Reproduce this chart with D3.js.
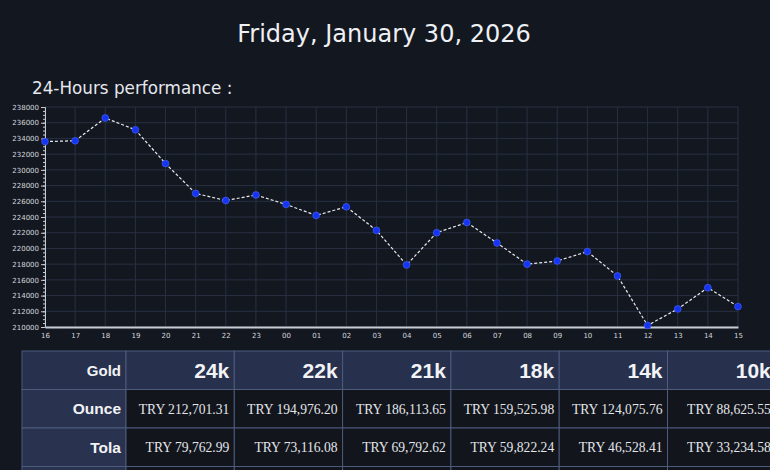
<!DOCTYPE html>
<html>
<head>
<meta charset="utf-8">
<script src="https://cdn.jsdelivr.net/npm/d3@7"></script>
<style>
  body { margin: 0; background: #131720; overflow: hidden; }
  svg { display: block; font-family: "DejaVu Sans", sans-serif; }
</style>
</head>
<body>
<div id="chart"></div>
<script>
// hourly price, last 24 hours
const hours = ["16","17","18","19","20","21","22","23","00","01","02","03","04","05","06","07","08","09","10","11","12","13","14","15"]
const prices = [233600, 233700, 236600, 235100, 230800, 227000, 226100, 226800, 225600, 224200, 225300, 222300,
  217900, 222000, 223300, 220700, 218000, 218400, 219600, 216500, 210200, 212300, 215000, 212600]

// price table (the row below Tola is cut off by the frame)
const karats = ["24k", "22k", "21k", "18k", "14k", "10k"]
const units = ["Ounce", "Tola"]
const ounceRow = ["TRY 212,701.31", "TRY 194,976.20", "TRY 186,113.65", "TRY 159,525.98", "TRY 124,075.76", "TRY 88,625.55"]
const tolaRow = ["TRY 79,762.99", "TRY 73,116.08", "TRY 69,792.62", "TRY 59,822.24", "TRY 46,528.41", "TRY 33,234.58"]

const W = 770, H = 470
const svg = d3.select("#chart").append("svg")
  .attr("width", W)
  .attr("height", H)

svg.append("text")
  .attr("x", 384)
  .attr("y", 42)
  .attr("text-anchor", "middle")
  .attr("font-size", 24)
  .attr("fill", "#eef0f4")
  .text("Friday, January 30, 2026")

svg.append("text")
  .attr("x", 32)
  .attr("y", 94)
  .attr("font-size", 16.8)
  .attr("fill", "#e6e8ee")
  .text("24-Hours performance :")

// --- line chart
const plot = {left: 45, right: 738, top: 107, bottom: 327}

const x = d3.scalePoint()
  .domain(hours)
  .range([plot.left, plot.right])

const y = d3.scaleLinear()
  .domain([210000, 238000])
  .range([plot.bottom, plot.top])

const yTicks = d3.range(210000, 238001, 2000)

const grid = svg.append("g")
grid.selectAll("line.h")
  .data(yTicks)
  .join("line")
    .attr("class", "h")
    .attr("x1", plot.left)
    .attr("x2", plot.right)
    .attr("y1", d => y(d))
    .attr("y2", d => y(d))
    .attr("stroke", "#283040")
    .attr("stroke-width", 1)
grid.selectAll("line.v")
  .data(hours)
  .join("line")
    .attr("class", "v")
    .attr("x1", d => x(d))
    .attr("x2", d => x(d))
    .attr("y1", plot.top)
    .attr("y2", plot.bottom)
    .attr("stroke", "#283040")
    .attr("stroke-width", 1)

// minor ticks on y axis
svg.append("g")
  .attr("transform", `translate(${plot.left},0)`)
  .call(d3.axisLeft(y).tickValues(d3.range(210000, 238001, 500)).tickSize(2).tickFormat(""))
  .call(g => g.select(".domain").remove())
  .call(g => g.selectAll("line").attr("stroke", "#c8ccd4"))

const yAxis = svg.append("g")
  .attr("transform", `translate(${plot.left},0)`)
  .call(d3.axisLeft(y).tickValues(yTicks).tickSize(4).tickPadding(2).tickFormat(d3.format("d")))
yAxis.select(".domain").attr("stroke", "#c8ccd4")
yAxis.selectAll("line").attr("stroke", "#c8ccd4")
yAxis.selectAll("text")
  .attr("fill", "#d4d7de")
  .attr("font-size", 7)
  .attr("font-family", "DejaVu Sans")

const xAxis = svg.append("g")
  .attr("transform", `translate(0,${plot.bottom})`)
  .call(d3.axisBottom(x).tickSize(0).tickPadding(6))
xAxis.select(".domain")
  .attr("stroke", "#c8ccd4")
  .attr("stroke-width", 2)
xAxis.selectAll("text")
  .attr("fill", "#d4d7de")
  .attr("font-size", 7)
  .attr("font-family", "DejaVu Sans")

const line = d3.line()
  .x((d, i) => x(hours[i]))
  .y(d => y(d))

svg.append("path")
  .datum(prices)
  .attr("d", line)
  .attr("fill", "none")
  .attr("stroke", "#e8eaf0")
  .attr("stroke-width", 1.2)
  .attr("stroke-dasharray", "3,2")

svg.append("g")
  .selectAll("circle")
  .data(prices)
  .join("circle")
    .attr("cx", (d, i) => x(hours[i]))
    .attr("cy", d => y(d))
    .attr("r", 3.4)
    .attr("fill", "#1535f2")
    .attr("stroke", "#4a64ff")
    .attr("stroke-width", 0.6)

// --- price table
const colEdges = [22, 126]
karats.forEach((k, i) => colEdges.push(126 + (i + 1) * 108.3))
const rowH = 38.5
const tableTop = 351
const rows = [ounceRow, tolaRow]

const table = svg.append("g")

const headerCells = [{text: "Gold", big: false}].concat(karats.map(k => ({text: k, big: true})))
table.selectAll("g.head")
  .data(headerCells)
  .join("g")
    .attr("class", "head")
    .each(function(d, i) {
      const g = d3.select(this)
      g.append("rect")
        .attr("x", colEdges[i])
        .attr("y", tableTop)
        .attr("width", colEdges[i + 1] - colEdges[i])
        .attr("height", rowH)
        .attr("fill", "#27314d")
        .attr("stroke", "#4d5b7c")
      g.append("text")
        .attr("x", colEdges[i + 1] - 5)
        .attr("y", tableTop + rowH / 2)
        .attr("dy", "0.36em")
        .attr("text-anchor", "end")
        .attr("font-family", "Liberation Sans, Arial, sans-serif")
        .attr("font-weight", "bold")
        .attr("font-size", d.big ? 21 : 15)
        .attr("fill", "#f2f3f6")
        .text(d.text)
    })

rows.forEach((row, r) => {
  const top = tableTop + rowH * (r + 1)
  const cells = [units[r]].concat(row)
  table.append("g")
    .selectAll("g")
    .data(cells)
    .join("g")
      .each(function(d, i) {
        const g = d3.select(this)
        g.append("rect")
          .attr("x", colEdges[i])
          .attr("y", top)
          .attr("width", colEdges[i + 1] - colEdges[i])
          .attr("height", rowH)
          .attr("fill", i == 0 ? "#29334f" : "#12151c")
          .attr("stroke", "#4d5b7c")
        g.append("text")
          .attr("x", colEdges[i + 1] - 5)
          .attr("y", top + rowH / 2)
          .attr("dy", "0.36em")
          .attr("text-anchor", "end")
          .attr("font-family", i == 0 ? "Liberation Sans, Arial, sans-serif" : "Liberation Serif, Times New Roman, serif")
          .attr("font-weight", i == 0 ? "bold" : "normal")
          .attr("font-size", i == 0 ? 15.5 : 13.6)
          .attr("fill", i == 0 ? "#f2f3f6" : "#e4e6ea")
          .text(d)
      })
})

// top edge of the next row, which falls below the frame
const nextTop = tableTop + rowH * (rows.length + 1)
table.append("g")
  .selectAll("rect")
  .data(colEdges.slice(0, -1))
  .join("rect")
    .attr("x", d => d)
    .attr("y", nextTop)
    .attr("width", (d, i) => colEdges[i + 1] - d)
    .attr("height", rowH)
    .attr("fill", (d, i) => i == 0 ? "#29334f" : "#12151c")
    .attr("stroke", "#4d5b7c")
</script>
</body>
</html>
